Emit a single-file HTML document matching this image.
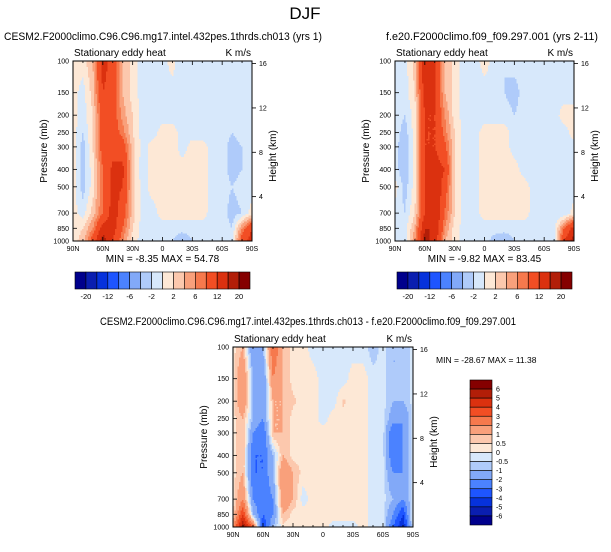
<!DOCTYPE html>
<html><head><meta charset="utf-8">
<style>
body{margin:0;background:#fff;width:611px;height:547px;overflow:hidden;font-family:"Liberation Sans",sans-serif}
svg text{font-family:"Liberation Sans",sans-serif;fill:#000}
</style></head>
<body>
<svg id="fig" width="611" height="547" viewBox="0 0 611 547" xmlns="http://www.w3.org/2000/svg">
<text x="305" y="19" font-size="17" text-anchor="middle">DJF</text>
<text x="4" y="40" font-size="11" textLength="318" lengthAdjust="spacingAndGlyphs">CESM2.F2000climo.C96.C96.mg17.intel.432pes.1thrds.ch013 (yrs 1)</text>
<text x="386" y="40" font-size="11" textLength="212" lengthAdjust="spacingAndGlyphs">f.e20.F2000climo.f09_f09.297.001 (yrs 2-11)</text>
<text x="100" y="325" font-size="11" textLength="416" lengthAdjust="spacingAndGlyphs">CESM2.F2000climo.C96.C96.mg17.intel.432pes.1thrds.ch013 - f.e20.F2000climo.f09_f09.297.001</text>
</svg>
<script>
// ---- data ----
const lats = [90,80,70,60,50,40,30,20,10,0,-10,-20,-30,-40,-50,-60,-70,-80,-90];
const levels = [100,150,200,250,300,400,500,700,850,1000];
const latLabels = ["90N","60N","30N","0","30S","60S","90S"];
const latTicks = [90,60,30,0,-30,-60,-90];
const presTicks = [100,150,200,250,300,400,500,700,850,1000];
const kmTicks = [4,8,12,16];
// fields: rows = latitude (90N..90S), cols = pressure levels (100..1000)
const field1 = [
[1,1,1,1,1,1,1,1,1,1],
[1,-1,-1,-2,-3,-3,-3,-1,2,3],
[4,3,2,2,2,1,1,3,6,10],
[14,12,10,10,10,8,8,8,14,18],
[10,10,10,10,10,13,13,14,14,12],
[4,4,5,7,10,13,12,10,8,6],
[1,1,2,2,3,3,3,3,2,1],
[-1,-1,-1,-1,-1,-1.5,-1,-1,-1,-1],
[-1,-1,-1,-1,1,1,1,-1,-1,-1],
[-1,-1,-1,1,1,1,1,1,-1,-1],
[1,-1,-1,1,1,1,1,1,-1,-2],
[-2,-2,-1,-1,-1,1,1,1,-1,-4],
[-1,-2,-1,-1,1,1,1,1,-1,-2],
[-1,-1,-1,-1,1,1,1,1,-1,-1],
[-1,-2,-2,-1,-1,-1,-1,-1,-1,-1],
[-1,-1,-1,-1,-1,-1,-1,-1,-1,-1],
[-1,-1,-1,-2,-3,-3,-2,-3,-2,-1],
[-1,-1,-1,-1,-2,-2,-1,-2,6,10],
[-1,-1,-1,-1,-1,-1,-1,1,12,14]];
const field2 = [
[-1,-1,-1,-1,-1,-1,1,-1,-1,-1],
[-1,-1,-2,-3,-4,-4,-3,-2,-1,-1],
[3,2,1,1,1,1,1,2,4,6],
[16,14,12,12,12,12,12,12,16,18],
[12,12,12,12,12,14,16,16,16,14],
[4,4,6,7,9,12,10,8,6,4],
[1,1,1,2,2,2,2,2,1,1],
[-1,-1,-1,-1,-1,-1,-1,-1,-1,-1],
[-1,-1,-1,-1,-1,-1,-1,-1,-1,-1],
[1,-1,-1,1,1,1,1,1,-1,-1],
[-1,-1,-1,1,1,1,1,1,-1,-3],
[-2,-2,-1,1,1,1,1,1,-1,-4],
[-1,-3,-2,-1,-1,1,1,1,-1,-2],
[-1,-1,-1,-1,-1,-1,1,1,-1,-1],
[-1,-1,-1,-1,-1,-1,-1,-1,-1,-1],
[-1,-1,-1,-1,-1,-1,-1,-1,-1,-1],
[-1,-1,-1,-1,-2,-2,-1,-2,-1,-1],
[-1,-1,1,-1,-1,-1,-1,-2,8,12],
[-1,-1,1,1,-1,-1,-1,1,14,18]];
const field3 = [
[0.3,0.3,0.3,0.3,0.3,0.3,0.3,0.3,0.3,2],
[1,2,2,1,1,1,1,2,4,6],
[-2,-1,-1,-1,-2,-3,-3,-2,-1,3],
[-1,-2,-2,-2,-3,-3,-3,-3,-3,-4],
[3,2,1,1,1,-1,-1,-2,-2,-1],
[1,1,1,1,1,1,2,2,1,0.3],
[0.3,0.3,0.6,0.3,0.3,0.3,1,1,0.3,0.3],
[0.3,0.3,0.3,0.3,0.3,0.3,0.3,-0.3,0.3,0.3],
[-0.3,0.3,0.3,0.3,0.3,0.3,0.3,0.3,0.3,0.3],
[-0.3,-0.3,-0.3,-0.3,0.3,0.3,0.3,0.3,0.3,0.3],
[-0.3,-0.3,-0.3,0.3,0.3,0.3,0.3,0.3,0.3,-0.3],
[-0.3,-0.3,0.6,0.3,0.3,0.3,0.3,0.3,0.3,-0.3],
[-0.3,0.3,0.3,0.3,0.3,0.3,0.3,0.3,0.3,-0.3],
[-0.3,0.3,0.3,0.3,0.3,0.3,0.3,0.3,0.3,0.3],
[-0.8,-0.3,-0.3,-0.3,-0.3,-0.3,-0.3,-0.3,-0.3,-0.3],
[-0.3,-0.3,-0.3,-0.3,-0.3,-0.3,-0.3,-0.3,-0.3,-0.3],
[-1,-1,-1,-1.5,-3,-3,-2,-1,-2,-3],
[-1,-1,-1,-2,-2,-2,-2,-2,-4,-5],
[-0.3,-0.3,-0.3,-0.3,-0.3,-0.3,-0.3,-0.3,0.3,-0.3]];
const contours1 = [-20,-16,-12,-8,-6,-4,-2,0,2,4,6,8,12,16,20];
const contours3 = [-6,-5,-4,-3,-2,-1,-0.5,0,0.5,1,2,3,4,5,6];
const cbLabels1 = ["-20","-12","-6","-2","2","6","12","20"];
const cbLabels3 = ["6","5","4","3","2","1","0.5","0","-0.5","-1","-2","-3","-4","-5","-6"];
const palette = ["#00008c","#0a1eb0","#0632dc","#1e55ff","#4b82ff","#82a9f8","#afcbfa","#d7e8fb","#fde8d6","#fcc8ad","#f9a07b","#f6794d","#f24e24","#db310f","#b21e08","#850000"];
// ---- drawing ----
const NS="http://www.w3.org/2000/svg";
const svg=document.getElementById('fig');
function mk(tag,attrs,parent){const e=document.createElementNS(NS,tag);for(const k in attrs)e.setAttribute(k,attrs[k]);(parent||svg).appendChild(e);return e;}
function colorFor(v,cont){let i=0;while(i<cont.length&&v>=cont[i])i++;return palette[i];}
function sample(f,lat,p){
  let i=0;while(i<lats.length-2&&lat<lats[i+1])i++;
  let ti=(lats[i]-lat)/(lats[i]-lats[i+1]);ti=Math.max(0,Math.min(1,ti));
  const lp=Math.log(p);let j=0;while(j<levels.length-2&&p>levels[j+1])j++;
  let tj=(lp-Math.log(levels[j]))/(Math.log(levels[j+1])-Math.log(levels[j]));tj=Math.max(0,Math.min(1,tj));
  const a=f[i][j],b=f[i+1][j],c=f[i][j+1],d=f[i+1][j+1];
  return a*(1-ti)*(1-tj)+b*ti*(1-tj)+c*(1-ti)*tj+d*ti*tj;
}
function cell(g,x,y,w,h,col){
  const r=mk('rect',{x:x.toFixed(2),y:y.toFixed(2),width:(w+0.4).toFixed(2),height:(h+0.4).toFixed(2),fill:col},g);
  
  
}
function panel(id,x0,y0,w,h,field,cont,withMinMax){
  const g=mk('g',{});
  
  
  const xOf=lat=>x0+(90-lat)/180*w;
  const yOf=p=>y0+Math.log10(p/100)*h;
  const latOf=x=>90-(x-x0)/w*180;
  const pOf=y=>100*Math.pow(10,(y-y0)/h);
  const step=1.5;
  const nx=Math.ceil(w/step), ny=Math.ceil(h/step);
  for(let r=0;r<ny;r++){
    const y=y0+r*step, hh=Math.min(step,y0+h-y);
    const p=pOf(y+hh/2);
    let runStart=x0,runCol=null;
    for(let c=0;c<nx;c++){
      const x=x0+c*step, ww=Math.min(step,x0+w-x);
      const col=colorFor(sample(field,latOf(x+ww/2),p),cont);
      if(col!==runCol){
        if(runCol)cell(g,runStart,y,x-runStart,hh,runCol);
        runStart=x;runCol=col;
      }
    }
    cell(g,runStart,y,x0+w-runStart-0.4,hh,runCol);
  }
  const fr=mk('rect',{x:x0,y:y0,width:w,height:h,fill:'none',stroke:'#000','stroke-width':1},g);
  
  
  for(let lat=90;lat>=-90;lat-=10){const x=xOf(lat);const major=lat%30===0;const L=major?4:2;
    mk('line',{x1:x,y1:y0+h,x2:x,y2:y0+h-L,stroke:'#000','stroke-width':0.8},g);
    mk('line',{x1:x,y1:y0,x2:x,y2:y0+L,stroke:'#000','stroke-width':0.8},g);}
  latTicks.forEach((lat,k)=>{const t=mk('text',{x:xOf(lat),y:y0+h+10,'font-size':7,'text-anchor':'middle'},g);t.textContent=latLabels[k];
    
    });
  presTicks.forEach(p=>{const y=yOf(p);mk('line',{x1:x0,y1:y,x2:x0+4,y2:y,stroke:'#000','stroke-width':0.8},g);
    const t=mk('text',{x:x0-4,y:y+2.5,'font-size':7,'text-anchor':'end'},g);t.textContent=p;
    
    });
  kmTicks.forEach(km=>{const p=1000*Math.exp(-km/7.05);const y=yOf(p);
    mk('line',{x1:x0+w,y1:y,x2:x0+w+4,y2:y,stroke:'#000','stroke-width':0.8},g);
    const t=mk('text',{x:x0+w+7,y:y+2.5,'font-size':7},g);t.textContent=km;
    
    });
  let t=mk('text',{x:x0+1,y:y0-5,'font-size':10},g);t.textContent='Stationary eddy heat';
  
  
  t=mk('text',{x:x0+w-1,y:y0-5,'font-size':10,'text-anchor':'end'},g);t.textContent='K m/s';
  
  
  t=mk('text',{x:x0-26,y:y0+h/2,'font-size':10,'text-anchor':'middle',transform:`rotate(-90 ${x0-26} ${y0+h/2})`},g);t.textContent='Pressure (mb)';
  
  
  t=mk('text',{x:x0+w+24,y:y0+h/2+5,'font-size':10,'text-anchor':'middle',transform:`rotate(-90 ${x0+w+24} ${y0+h/2+5})`},g);t.textContent='Height (km)';
  
  
  if(withMinMax){t=mk('text',{x:x0+w/2,y:y0+h+21,'font-size':10,'text-anchor':'middle'},g);t.textContent=withMinMax;
    
    }
}
function hbar(id,x0,y0,w,h){
  const g=mk('g',{});
  
  
  const bw=w/palette.length;
  palette.forEach((c,i)=>{mk('rect',{x:x0+i*bw,y:y0,width:bw,height:h,fill:c,stroke:'#000','stroke-width':0.6},g);});
  cbLabels1.forEach((l,k)=>{const t=mk('text',{x:x0+(2*k+1)*bw,y:y0+h+10,'font-size':7.5,'text-anchor':'middle'},g);t.textContent=l;
    
    });
}
function vbar(id,x0,y0,w,h){
  const g=mk('g',{});
  
  
  const bh=h/palette.length;
  palette.slice().reverse().forEach((c,i)=>{mk('rect',{x:x0,y:y0+i*bh,width:w,height:bh,fill:c,stroke:'#000','stroke-width':0.6},g);});
  cbLabels3.forEach((l,k)=>{const t=mk('text',{x:x0+w+4,y:y0+(k+1)*bh+2.5,'font-size':7},g);t.textContent=l;
    
    });
}
panel('panel-1-cesm2',73,61,179,180,field1,contours1,'MIN =  -8.35  MAX =  54.78');
panel('panel-2-f09',395,61,179,180,field2,contours1,'MIN =  -9.82  MAX =  83.45');
panel('panel-3-difference',233,347,180,180,field3,contours3,null);
hbar('colorbar-1',75,272,175,17);
hbar('colorbar-2',397,272,175,17);
vbar('colorbar-3',470,380,22,145);
const mm=mk('text',{x:436,y:363,'font-size':8.5});mm.textContent='MIN = -28.67  MAX = 11.38';


</script>
</body></html>
